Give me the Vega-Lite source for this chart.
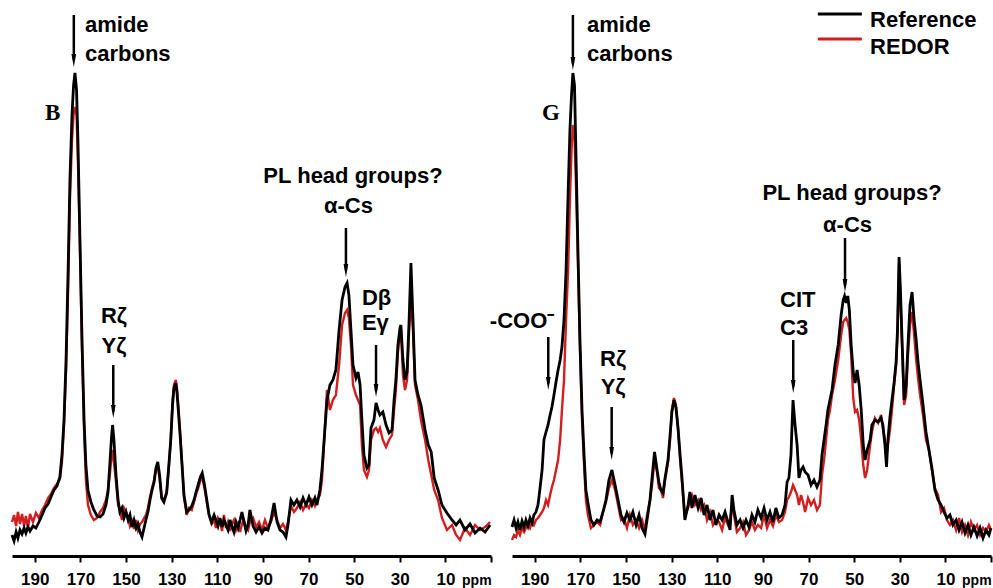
{
"$schema": "https://vega.github.io/schema/vega-lite/v6.json",
"padding": {"left": 6, "top": 0, "right": 1, "bottom": 0},
"spacing": 21,
"bounds": "flush",
"background": "white",
"config": {
  "view": {"stroke": null},
  "axis": {"domainColor": "#000", "domainWidth": 3, "tickColor": "#000", "tickWidth": 2, "tickSize": 6, "labelFont": "Liberation Sans", "labelFontSize": 17, "labelFontWeight": "bold", "labelColor": "#000", "labelPadding": 9, "grid": false, "labelOverlap": false, "labelFlush": false},
  "text": {"font": "Liberation Sans", "fontWeight": "bold", "fontSize": 22, "baseline": "alphabetic", "color": "#000"}
},
"datasets": {
  "B": [
{"x":200,"r":21,"d":34},{"x":199.1,"r":15,"d":41},{"x":198.2,"r":24,"d":30},{"x":197.4,"r":18,"d":44},{"x":196.5,"r":26,"d":32},{"x":195.6,"r":22,"d":42},{"x":194.7,"r":28,"d":30},{"x":193.9,"r":23,"d":40},{"x":193,"r":29,"d":28},{"x":192.1,"r":25,"d":42},{"x":190.8,"r":30,"d":34},{"x":189.5,"r":28,"d":43},{"x":188.2,"r":34,"d":38},{"x":186.8,"r":41,"d":46},{"x":185.5,"r":48,"d":51},{"x":184.2,"r":52,"d":58},{"x":182.9,"r":59,"d":62},{"x":181.6,"r":66,"d":68},{"x":180.3,"r":70,"d":72},{"x":179,"r":79,"d":77},{"x":178.1,"r":101,"d":94},{"x":177.2,"r":136,"d":131},{"x":176.3,"r":196,"d":186},{"x":175.4,"r":286,"d":266},{"x":174.6,"r":376,"d":356},{"x":173.7,"r":441,"d":416},{"x":173,"r":471,"d":441},{"x":172.4,"r":483,"d":449},{"x":171.7,"r":466,"d":441},{"x":171.1,"r":416,"d":396},{"x":170.2,"r":316,"d":306},{"x":169.3,"r":216,"d":206},{"x":168.4,"r":136,"d":126},{"x":167.6,"r":91,"d":76},{"x":166.7,"r":66,"d":51},{"x":165.4,"r":54,"d":41},{"x":164.1,"r":46,"d":36},{"x":162.7,"r":40,"d":38},{"x":161.4,"r":39,"d":44},{"x":160.1,"r":42,"d":48},{"x":158.8,"r":51,"d":56},{"x":157.9,"r":64,"d":66},{"x":157,"r":96,"d":84},{"x":156.4,"r":118,"d":98},{"x":155.9,"r":131,"d":106},{"x":155.3,"r":116,"d":94},{"x":154.4,"r":81,"d":74},{"x":153.5,"r":56,"d":51},{"x":152.7,"r":44,"d":46},{"x":151.8,"r":48,"d":36},{"x":150.9,"r":38,"d":48},{"x":150,"r":44,"d":44},{"x":149.1,"r":36,"d":38},{"x":148.3,"r":41,"d":30},{"x":147.4,"r":29,"d":35},{"x":146.5,"r":36,"d":27},{"x":145.6,"r":28,"d":36},{"x":144.8,"r":32,"d":26},{"x":143.9,"r":24,"d":32},{"x":143,"r":19,"d":34},{"x":142.1,"r":28,"d":38},{"x":141.3,"r":36,"d":41},{"x":140.4,"r":44,"d":48},{"x":139.5,"r":56,"d":59},{"x":138.6,"r":66,"d":68},{"x":137.7,"r":74,"d":76},{"x":136.9,"r":88,"d":86},{"x":136.1,"r":94,"d":90},{"x":135.3,"r":81,"d":78},{"x":134.4,"r":58,"d":59},{"x":133.4,"r":54,"d":56},{"x":132.2,"r":63,"d":64},{"x":131.4,"r":86,"d":84},{"x":130.4,"r":116,"d":116},{"x":129.6,"r":151,"d":156},{"x":129,"r":168,"d":171},{"x":128.2,"r":173,"d":176},{"x":127.7,"r":164,"d":168},{"x":127.1,"r":146,"d":151},{"x":126.3,"r":121,"d":124},{"x":125.6,"r":96,"d":98},{"x":124.6,"r":61,"d":59},{"x":123.4,"r":44,"d":41},{"x":122.4,"r":46,"d":48},{"x":121.2,"r":50,"d":46},{"x":120.2,"r":56,"d":54},{"x":119.3,"r":64,"d":62},{"x":118.3,"r":72,"d":68},{"x":117.4,"r":79,"d":76},{"x":116.6,"r":83,"d":78},{"x":115.6,"r":71,"d":68},{"x":114.6,"r":56,"d":54},{"x":113.6,"r":41,"d":41},{"x":112.5,"r":34,"d":32},{"x":111.4,"r":41,"d":36},{"x":110.6,"r":36,"d":28},{"x":109.7,"r":30,"d":38},{"x":108.8,"r":38,"d":34},{"x":107.9,"r":29,"d":25},{"x":107.1,"r":36,"d":41},{"x":106.2,"r":31,"d":28},{"x":105.3,"r":26,"d":34},{"x":104.4,"r":36,"d":25},{"x":103.6,"r":30,"d":32},{"x":102.7,"r":24,"d":36},{"x":101.8,"r":34,"d":26},{"x":100.9,"r":28,"d":32},{"x":100,"r":36,"d":24},{"x":99.2,"r":44,"d":32},{"x":98.3,"r":34,"d":36},{"x":97.4,"r":25,"d":29},{"x":96.5,"r":31,"d":26},{"x":95.7,"r":46,"d":34},{"x":94.3,"r":30,"d":38},{"x":93,"r":24,"d":29},{"x":91.7,"r":29,"d":34},{"x":90.4,"r":23,"d":26},{"x":89.1,"r":28,"d":36},{"x":87.8,"r":26,"d":28},{"x":86.5,"r":36,"d":34},{"x":85.1,"r":53,"d":44},{"x":83.8,"r":34,"d":36},{"x":82.5,"r":26,"d":28},{"x":81.2,"r":24,"d":32},{"x":79.9,"r":19,"d":26},{"x":79,"r":31,"d":34},{"x":77.7,"r":56,"d":50},{"x":76.4,"r":51,"d":44},{"x":75.1,"r":56,"d":48},{"x":73.7,"r":49,"d":54},{"x":72.4,"r":58,"d":46},{"x":71.1,"r":51,"d":52},{"x":69.8,"r":59,"d":48},{"x":68.5,"r":51,"d":56},{"x":67.2,"r":58,"d":50},{"x":66.3,"r":51,"d":56},{"x":65,"r":66,"d":61},{"x":64.1,"r":86,"d":76},{"x":61.9,"r":156,"d":166},{"x":60.6,"r":171,"d":146},{"x":59.3,"r":176,"d":156},{"x":58,"r":186,"d":161},{"x":56.6,"r":226,"d":191},{"x":55.3,"r":256,"d":231},{"x":54,"r":269,"d":243},{"x":53.1,"r":273,"d":246},{"x":52.3,"r":261,"d":238},{"x":51.4,"r":226,"d":211},{"x":50.5,"r":191,"d":171},{"x":49.2,"r":178,"d":161},{"x":48.3,"r":184,"d":156},{"x":47.4,"r":171,"d":151},{"x":46.6,"r":136,"d":111},{"x":45.7,"r":101,"d":86},{"x":44.4,"r":88,"d":79},{"x":43.5,"r":91,"d":86},{"x":42.6,"r":128,"d":116},{"x":41.3,"r":136,"d":126},{"x":40.4,"r":153,"d":128},{"x":39.5,"r":146,"d":124},{"x":38.7,"r":141,"d":128},{"x":37.4,"r":144,"d":116},{"x":36,"r":131,"d":109},{"x":34.7,"r":123,"d":116},{"x":33.4,"r":126,"d":121},{"x":32.5,"r":156,"d":146},{"x":31.7,"r":176,"d":166},{"x":30.8,"r":211,"d":204},{"x":29.9,"r":228,"d":223},{"x":29.5,"r":231,"d":226},{"x":28.6,"r":196,"d":181},{"x":27.7,"r":176,"d":166},{"x":26.8,"r":184,"d":176},{"x":25.9,"r":236,"d":226},{"x":25.1,"r":293,"d":259},{"x":24.2,"r":236,"d":226},{"x":23.3,"r":176,"d":171},{"x":22,"r":161,"d":156},{"x":20.7,"r":151,"d":136},{"x":18.9,"r":126,"d":116},{"x":17.5,"r":111,"d":96},{"x":16.2,"r":104,"d":81},{"x":14.9,"r":78,"d":66},{"x":13.2,"r":66,"d":56},{"x":11.5,"r":51,"d":38},{"x":9.3,"r":43,"d":26},{"x":7.1,"r":36,"d":31},{"x":5.3,"r":31,"d":21},{"x":3.6,"r":36,"d":16},{"x":1.4,"r":26,"d":28},{"x":-0.8,"r":32,"d":21},{"x":-3,"r":23,"d":31},{"x":-5.2,"r":28,"d":26},{"x":-7.4,"r":24,"d":29},{"x":-9.6,"r":31,"d":34}
  ],
  "G": [
{"x":200,"r":29,"d":16},{"x":199.1,"r":36,"d":21},{"x":198.2,"r":28,"d":19},{"x":197.4,"r":34,"d":26},{"x":196.5,"r":26,"d":21},{"x":195.6,"r":35,"d":28},{"x":194.7,"r":29,"d":24},{"x":193.9,"r":36,"d":28},{"x":193,"r":30,"d":32},{"x":192.1,"r":38,"d":28},{"x":191.2,"r":33,"d":34},{"x":190.4,"r":41,"d":31},{"x":189.5,"r":44,"d":36},{"x":188.6,"r":51,"d":38},{"x":187.7,"r":68,"d":41},{"x":186.8,"r":86,"d":44},{"x":186,"r":116,"d":48},{"x":185.1,"r":124,"d":56},{"x":184.2,"r":131,"d":51},{"x":183.3,"r":141,"d":61},{"x":182.5,"r":149,"d":69},{"x":181.6,"r":161,"d":76},{"x":180.7,"r":174,"d":86},{"x":179.8,"r":186,"d":96},{"x":178.9,"r":196,"d":116},{"x":178.1,"r":209,"d":146},{"x":177.2,"r":236,"d":176},{"x":176.3,"r":286,"d":236},{"x":175.4,"r":363,"d":286},{"x":174.6,"r":426,"d":356},{"x":173.9,"r":461,"d":406},{"x":173.3,"r":483,"d":431},{"x":172.6,"r":471,"d":421},{"x":171.9,"r":396,"d":366},{"x":171,"r":296,"d":286},{"x":170.2,"r":216,"d":206},{"x":169.3,"r":146,"d":136},{"x":168.4,"r":101,"d":91},{"x":167.6,"r":66,"d":56},{"x":166.7,"r":53,"d":41},{"x":165.4,"r":36,"d":28},{"x":164.1,"r":31,"d":31},{"x":162.7,"r":36,"d":34},{"x":161.4,"r":34,"d":31},{"x":160.1,"r":44,"d":44},{"x":158.8,"r":56,"d":54},{"x":157.5,"r":76,"d":68},{"x":156.2,"r":86,"d":76},{"x":154.8,"r":71,"d":66},{"x":153.5,"r":56,"d":51},{"x":152.2,"r":41,"d":36},{"x":150.9,"r":34,"d":38},{"x":149.6,"r":43,"d":28},{"x":148.3,"r":36,"d":41},{"x":147,"r":44,"d":31},{"x":145.6,"r":31,"d":36},{"x":144.3,"r":41,"d":28},{"x":143,"r":28,"d":36},{"x":141.7,"r":22,"d":26},{"x":140.8,"r":36,"d":41},{"x":139.5,"r":56,"d":56},{"x":138.6,"r":78,"d":71},{"x":137.5,"r":104,"d":96},{"x":136.4,"r":86,"d":84},{"x":135.6,"r":74,"d":68},{"x":134.7,"r":66,"d":66},{"x":133.8,"r":63,"d":58},{"x":132.9,"r":78,"d":76},{"x":131.6,"r":96,"d":94},{"x":130.7,"r":121,"d":116},{"x":129.9,"r":144,"d":146},{"x":129,"r":156,"d":158},{"x":128.1,"r":148,"d":151},{"x":127.2,"r":128,"d":126},{"x":126.3,"r":101,"d":96},{"x":125.5,"r":79,"d":74},{"x":124.2,"r":36,"d":41},{"x":122.8,"r":51,"d":48},{"x":122,"r":64,"d":56},{"x":121.1,"r":48,"d":61},{"x":119.8,"r":61,"d":51},{"x":118.4,"r":48,"d":56},{"x":117.1,"r":58,"d":46},{"x":115.8,"r":41,"d":51},{"x":114.5,"r":51,"d":36},{"x":113.2,"r":36,"d":44},{"x":111.9,"r":46,"d":31},{"x":110.6,"r":31,"d":36},{"x":109.2,"r":41,"d":34},{"x":107.9,"r":36,"d":26},{"x":106.6,"r":44,"d":38},{"x":105.3,"r":34,"d":31},{"x":104.4,"r":26,"d":36},{"x":103.5,"r":61,"d":51},{"x":102.7,"r":46,"d":41},{"x":101.4,"r":31,"d":24},{"x":100,"r":36,"d":28},{"x":98.7,"r":28,"d":34},{"x":97.4,"r":36,"d":21},{"x":96.1,"r":29,"d":26},{"x":94.8,"r":41,"d":34},{"x":93.5,"r":34,"d":26},{"x":92.2,"r":46,"d":31},{"x":90.8,"r":38,"d":28},{"x":89.5,"r":48,"d":41},{"x":88.2,"r":36,"d":28},{"x":86.9,"r":44,"d":36},{"x":85.6,"r":34,"d":30},{"x":84.3,"r":48,"d":41},{"x":83,"r":38,"d":34},{"x":81.6,"r":41,"d":36},{"x":80.3,"r":51,"d":44},{"x":79.4,"r":74,"d":56},{"x":78.6,"r":78,"d":59},{"x":77.7,"r":101,"d":64},{"x":76.8,"r":156,"d":71},{"x":75.9,"r":131,"d":66},{"x":75,"r":111,"d":61},{"x":74.2,"r":78,"d":51},{"x":73.3,"r":86,"d":61},{"x":72.4,"r":89,"d":54},{"x":71.5,"r":84,"d":44},{"x":70.2,"r":81,"d":58},{"x":68.9,"r":71,"d":51},{"x":67.6,"r":76,"d":56},{"x":66.3,"r":69,"d":46},{"x":65,"r":76,"d":51},{"x":64.1,"r":101,"d":81},{"x":63.2,"r":116,"d":96},{"x":62.3,"r":131,"d":116},{"x":61.5,"r":146,"d":136},{"x":60.6,"r":156,"d":146},{"x":59.7,"r":166,"d":161},{"x":58.4,"r":191,"d":176},{"x":57,"r":211,"d":196},{"x":55.7,"r":241,"d":221},{"x":54.8,"r":256,"d":234},{"x":54.2,"r":260,"d":236},{"x":53.5,"r":253,"d":238},{"x":52.8,"r":260,"d":234},{"x":52.1,"r":246,"d":226},{"x":51.3,"r":211,"d":201},{"x":50.4,"r":184,"d":158},{"x":49.6,"r":173,"d":144},{"x":48.7,"r":186,"d":146},{"x":47.8,"r":171,"d":136},{"x":46.9,"r":146,"d":116},{"x":46,"r":111,"d":91},{"x":45.2,"r":96,"d":78},{"x":44.3,"r":106,"d":86},{"x":43,"r":116,"d":111},{"x":42.2,"r":131,"d":124},{"x":40.9,"r":136,"d":138},{"x":39.5,"r":134,"d":133},{"x":38.2,"r":138,"d":141},{"x":37.4,"r":131,"d":128},{"x":36.5,"r":111,"d":116},{"x":35.8,"r":89,"d":101},{"x":35.2,"r":116,"d":111},{"x":34.3,"r":139,"d":126},{"x":33.4,"r":156,"d":146},{"x":32.5,"r":173,"d":171},{"x":31.6,"r":194,"d":191},{"x":31,"r":226,"d":221},{"x":30.3,"r":299,"d":294},{"x":29.7,"r":266,"d":256},{"x":29,"r":216,"d":211},{"x":28.1,"r":156,"d":151},{"x":27.2,"r":171,"d":161},{"x":26.4,"r":211,"d":201},{"x":25.5,"r":251,"d":231},{"x":24.6,"r":264,"d":244},{"x":23.7,"r":236,"d":221},{"x":22.8,"r":216,"d":196},{"x":22,"r":194,"d":178},{"x":21.1,"r":176,"d":161},{"x":19.8,"r":151,"d":141},{"x":18.5,"r":124,"d":116},{"x":17.2,"r":106,"d":106},{"x":15.9,"r":88,"d":86},{"x":14.6,"r":66,"d":68},{"x":13.2,"r":56,"d":61},{"x":11.9,"r":51,"d":44},{"x":10.6,"r":44,"d":48},{"x":9.3,"r":38,"d":36},{"x":8,"r":41,"d":31},{"x":6.7,"r":31,"d":36},{"x":5.3,"r":36,"d":26},{"x":4,"r":26,"d":38},{"x":2.7,"r":34,"d":24},{"x":1.4,"r":23,"d":31},{"x":0.1,"r":31,"d":21},{"x":-1.2,"r":21,"d":34},{"x":-2.5,"r":29,"d":26},{"x":-3.9,"r":20,"d":31},{"x":-5.2,"r":28,"d":21},{"x":-6.5,"r":18,"d":28},{"x":-7.8,"r":26,"d":24},{"x":-9.1,"r":21,"d":31},{"x":-10,"r":28,"d":26}
  ],
  "arrB": [
    {"x": 172.9, "y": 541, "y2": 495.5},
    {"x": 155.6, "y": 191, "y2": 144.5},
    {"x": 53.6, "y": 328, "y2": 285.5},
    {"x": 40.4, "y": 211, "y2": 165.5}
  ],
  "arrG": [
    {"x": 173.3, "y": 541, "y2": 492.5},
    {"x": 184.1, "y": 219, "y2": 172.5},
    {"x": 156.3, "y": 149, "y2": 102.5},
    {"x": 76.7, "y": 216, "y2": 169.5},
    {"x": 54.0, "y": 318, "y2": 270.5}
  ],
  "cB": [
    {"x": 50.5, "y": 373, "t": "PL head groups?"},
    {"x": 52.5, "y": 343, "t": "α-Cs"},
    {"x": 155.3, "y": 233, "t": "Rζ"},
    {"x": 155.3, "y": 203, "t": "Yζ"}
  ],
  "cG": [
    {"x": 50.9, "y": 356, "t": "PL head groups?"},
    {"x": 52.9, "y": 324, "t": "α-Cs"},
    {"x": 155.7, "y": 190, "t": "Rζ"},
    {"x": 155.7, "y": 162, "t": "Yζ"},
    {"x": 195.6, "y": 228, "t": "-COO⁻"}
  ],
  "lB": [
    {"x": 168, "y": 524, "t": "amide"},
    {"x": 168, "y": 495, "t": "carbons"},
    {"x": 46.6, "y": 251, "t": "Dβ"},
    {"x": 46.6, "y": 226, "t": "Eγ"}
  ],
  "lG": [
    {"x": 167.1, "y": 524, "t": "amide"},
    {"x": 167.1, "y": 495, "t": "carbons"},
    {"x": 82.5, "y": 249, "t": "CIT"},
    {"x": 82.5, "y": 221, "t": "C3"}
  ],
  "letB": [{"x": 182.2, "y": 436, "t": "B"}],
  "letG": [{"x": 182.9, "y": 436, "t": "G"}],
  "ppm": [{"x": 2.7, "y": -29, "t": "ppm"}],
  "legLine": [
    {"x": 65.9, "x2": 46.6, "y": 542, "s": "Reference"},
    {"x": 65.9, "x2": 46.6, "y": 517, "s": "REDOR"}
  ],
  "legText": [
    {"x": 43, "y": 529, "t": "Reference"},
    {"x": 43, "y": 502, "t": "REDOR"}
  ]
},
"hconcat": [
  {
    "width": 479, "height": 556,
    "layer": [
      {"data": {"name": "B"}, "mark": {"type": "line", "color": "#d11f1f", "strokeWidth": 2.4},
       "encoding": {"x": {"field": "x", "type": "quantitative", "scale": {"domain": [-10, 200], "reverse": true, "nice": false, "zero": false}, "axis": {"values": [190,180,170,160,150,140,130,120,110,100,90,80,70,60,50,40,30,20,10,0,-10], "labelExpr": "datum.value > 0 && datum.value % 20 == 10 ? datum.label : ''", "title": null}},
                    "y": {"field": "d", "type": "quantitative", "scale": {"domain": [0, 556], "nice": false, "zero": false}, "axis": null}}},
      {"data": {"name": "B"}, "mark": {"type": "line", "color": "#000000", "strokeWidth": 2.8},
       "encoding": {"x": {"field": "x", "type": "quantitative"}, "y": {"field": "r", "type": "quantitative", "axis": null}}},
      {"data": {"name": "arrB"}, "mark": {"type": "rule", "color": "#000000", "strokeWidth": 2.5},
       "encoding": {"x": {"field": "x", "type": "quantitative"}, "y": {"field": "y", "type": "quantitative", "axis": null}, "y2": {"field": "y2"}}},
      {"data": {"name": "arrB"}, "mark": {"type": "point", "shape": "M-0.36,-1L0.36,-1L0,1Z", "size": 169, "filled": true, "color": "#000000", "opacity": 1},
       "encoding": {"x": {"field": "x", "type": "quantitative"}, "y": {"field": "y2", "type": "quantitative", "axis": null}}},
      {"data": {"name": "cB"}, "mark": {"type": "text", "align": "center"},
       "encoding": {"x": {"field": "x", "type": "quantitative"}, "y": {"field": "y", "type": "quantitative", "axis": null}, "text": {"field": "t"}}},
      {"data": {"name": "lB"}, "mark": {"type": "text", "align": "left"},
       "encoding": {"x": {"field": "x", "type": "quantitative"}, "y": {"field": "y", "type": "quantitative", "axis": null}, "text": {"field": "t"}}},
      {"data": {"name": "letB"}, "mark": {"type": "text", "align": "center", "font": "Liberation Serif", "fontSize": 23},
       "encoding": {"x": {"field": "x", "type": "quantitative"}, "y": {"field": "y", "type": "quantitative", "axis": null}, "text": {"field": "t"}}},
      {"data": {"name": "ppm"}, "mark": {"type": "text", "align": "left", "fontSize": 14},
       "encoding": {"x": {"field": "x", "type": "quantitative"}, "y": {"field": "y", "type": "quantitative", "axis": null}, "text": {"field": "t"}}}
    ]
  },
  {
    "width": 479, "height": 556,
    "layer": [
      {"data": {"name": "G"}, "mark": {"type": "line", "color": "#d11f1f", "strokeWidth": 2.4},
       "encoding": {"x": {"field": "x", "type": "quantitative", "scale": {"domain": [-10, 200], "reverse": true, "nice": false, "zero": false}, "axis": {"values": [190,180,170,160,150,140,130,120,110,100,90,80,70,60,50,40,30,20,10,0,-10], "labelExpr": "datum.value > 0 && datum.value % 20 == 10 ? datum.label : ''", "title": null}},
                    "y": {"field": "d", "type": "quantitative", "scale": {"domain": [0, 556], "nice": false, "zero": false}, "axis": null}}},
      {"data": {"name": "G"}, "mark": {"type": "line", "color": "#000000", "strokeWidth": 2.8},
       "encoding": {"x": {"field": "x", "type": "quantitative"}, "y": {"field": "r", "type": "quantitative", "axis": null}}},
      {"data": {"name": "arrG"}, "mark": {"type": "rule", "color": "#000000", "strokeWidth": 2.5},
       "encoding": {"x": {"field": "x", "type": "quantitative"}, "y": {"field": "y", "type": "quantitative", "axis": null}, "y2": {"field": "y2"}}},
      {"data": {"name": "arrG"}, "mark": {"type": "point", "shape": "M-0.36,-1L0.36,-1L0,1Z", "size": 169, "filled": true, "color": "#000000", "opacity": 1},
       "encoding": {"x": {"field": "x", "type": "quantitative"}, "y": {"field": "y2", "type": "quantitative", "axis": null}}},
      {"data": {"name": "cG"}, "mark": {"type": "text", "align": "center"},
       "encoding": {"x": {"field": "x", "type": "quantitative"}, "y": {"field": "y", "type": "quantitative", "axis": null}, "text": {"field": "t"}}},
      {"data": {"name": "lG"}, "mark": {"type": "text", "align": "left"},
       "encoding": {"x": {"field": "x", "type": "quantitative"}, "y": {"field": "y", "type": "quantitative", "axis": null}, "text": {"field": "t"}}},
      {"data": {"name": "letG"}, "mark": {"type": "text", "align": "center", "font": "Liberation Serif", "fontSize": 23},
       "encoding": {"x": {"field": "x", "type": "quantitative"}, "y": {"field": "y", "type": "quantitative", "axis": null}, "text": {"field": "t"}}},
      {"data": {"name": "ppm"}, "mark": {"type": "text", "align": "left", "fontSize": 14},
       "encoding": {"x": {"field": "x", "type": "quantitative"}, "y": {"field": "y", "type": "quantitative", "axis": null}, "text": {"field": "t"}}},
      {"data": {"name": "legLine"}, "mark": {"type": "rule", "strokeWidth": 3},
       "encoding": {"x": {"field": "x", "type": "quantitative"}, "x2": {"field": "x2"}, "y": {"field": "y", "type": "quantitative", "axis": null},
                    "color": {"field": "s", "type": "nominal", "scale": {"domain": ["Reference", "REDOR"], "range": ["#000000", "#d11f1f"]}, "legend": null}}},
      {"data": {"name": "legText"}, "mark": {"type": "text", "align": "left", "fontSize": 22},
       "encoding": {"x": {"field": "x", "type": "quantitative"}, "y": {"field": "y", "type": "quantitative", "axis": null}, "text": {"field": "t"}}}
    ]
  }
]
}
